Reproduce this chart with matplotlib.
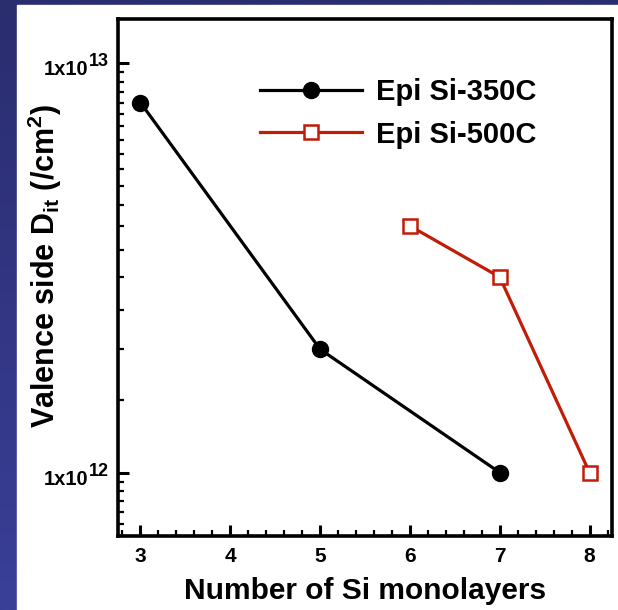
import numpy as np
import matplotlib
matplotlib.use("Agg")
import matplotlib.pyplot as plt
from matplotlib.patches import Rectangle
from matplotlib.ticker import FixedLocator, NullFormatter

# Valence-side interface trap density vs. number of Si monolayers
layers_350 = [3, 5, 7]
dit_350 = [8e12, 2e12, 1e12]
layers_500 = [6, 7, 8]
dit_500 = [4e12, 3e12, 1e12]

x_ticks = [3, 4, 5, 6, 7, 8]
y_ticks = [1e12, 1e13]
y_tick_exps = ["12", "13"]

plt.rcParams["font.family"] = ["Liberation Sans", "DejaVu Sans"]
plt.rcParams["font.weight"] = "bold"
plt.rcParams["mathtext.fontset"] = "custom"
plt.rcParams["mathtext.rm"] = "Liberation Sans:bold"
plt.rcParams["mathtext.it"] = "Liberation Sans:bold"
plt.rcParams["mathtext.bf"] = "Liberation Sans:bold"

fig = plt.figure(figsize=(6.18, 6.10), dpi=100)

# slide background: blue gradient with a white panel
bg = fig.add_axes([0, 0, 1, 1], zorder=-10)
grad = np.linspace(0, 1, 256).reshape(-1, 1)
cmap = matplotlib.colors.LinearSegmentedColormap.from_list("slide", ["#2a2d6e", "#3a3f98"])
bg.imshow(grad, aspect="auto", cmap=cmap, extent=[0, 1, 0, 1], origin="upper")
bg.add_patch(Rectangle((17 / 618, 0), 1, 1 - 5 / 610, color="white", transform=bg.transAxes))
bg.set_xlim(0, 1)
bg.set_ylim(0, 1)
bg.axis("off")

ax = fig.add_axes([118 / 618, 74 / 610, 494 / 618, 517 / 610])
ax.set_facecolor("white")

ax.plot(layers_350, dit_350, color="black", lw=2.3, marker="o", ms=11.5,
        label="Epi Si-350C")
ax.plot(layers_500, dit_500, color="#c01c08", lw=2.3, marker="s", ms=10,
        mfc="white", mec="#c01c08", mew=1.8, label="Epi Si-500C")

ax.set_yscale("log")
ax.set_xlim(2.75, 8.25)
ax.set_ylim(7e11, 1.28e13)

ax.set_xticks(x_ticks)
ax.xaxis.set_minor_locator(FixedLocator(np.arange(2.8, 8.25, 0.2)))
ax.set_yticks(y_ticks)
ax.set_yticklabels([])
minor_y = list(np.arange(7e11, 1e12, 0.5e11)) + list(np.arange(1.5e12, 1e13, 0.5e12))
ax.yaxis.set_minor_locator(FixedLocator(minor_y))
ax.yaxis.set_minor_formatter(NullFormatter())

# y tick labels written as 1x10 with a full-size raised exponent
for v, e in zip(y_ticks, y_tick_exps):
    ax.annotate("1x10", xy=(0, v), xycoords=("axes fraction", "data"),
                xytext=(-30, -12), textcoords="offset pixels",
                ha="right", va="baseline", fontsize=14.5, fontweight="bold")
    ax.annotate(e, xy=(0, v), xycoords=("axes fraction", "data"),
                xytext=(-29, -3), textcoords="offset pixels",
                ha="left", va="baseline", fontsize=13, fontweight="bold")

ax.tick_params(which="major", direction="in", length=8, width=2.2, pad=8)
ax.tick_params(which="minor", direction="in", length=4, width=1.6)
ax.tick_params(axis="x", labelsize=15)
for s in ax.spines.values():
    s.set_linewidth(2.6)

ax.set_xlabel("Number of Si monolayers", fontsize=21.5, fontweight="bold", labelpad=8)
ax.set_ylabel("Valence side D$_{\\mathrm{it}}$ (/cm$^2$)", fontsize=22, fontweight="bold")
ax.yaxis.set_label_coords(-0.11, 0.522)

ax.legend(loc="upper left", bbox_to_anchor=(0.287, 0.886), frameon=False, fontsize=21,
          handlelength=3.5, handletextpad=0.48, borderpad=0, borderaxespad=0,
          labelspacing=0.5)

fig.savefig("out.png", dpi=100)
